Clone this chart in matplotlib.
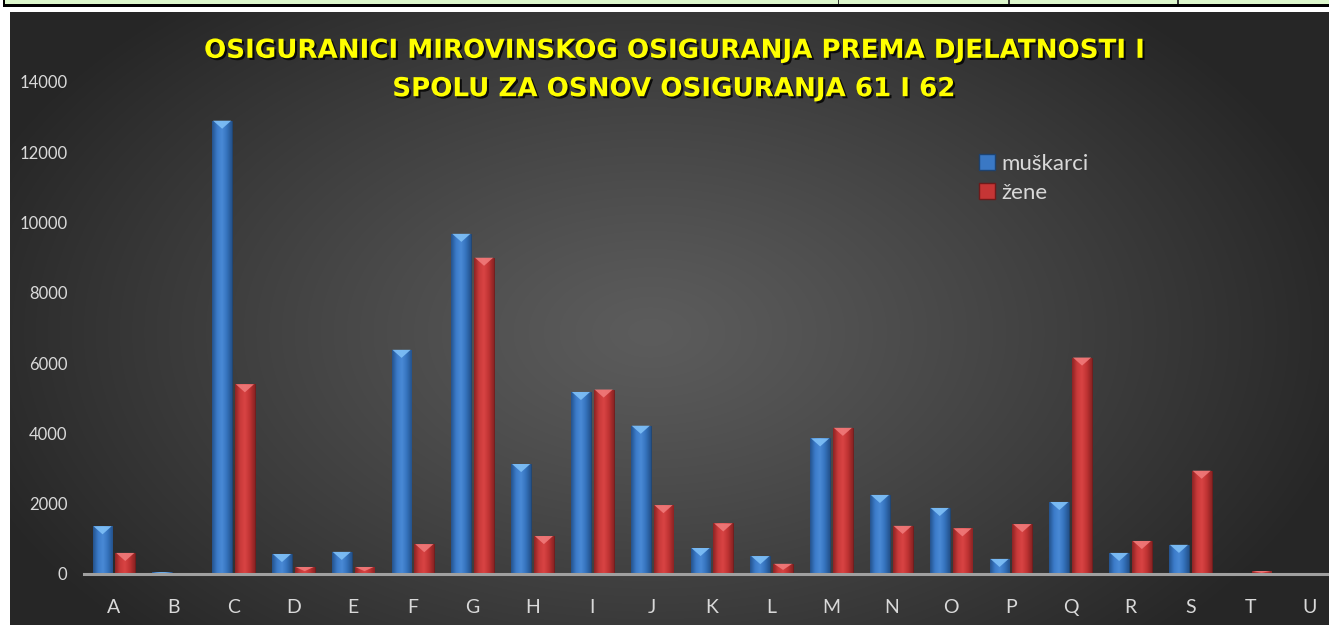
import numpy as np
import matplotlib
matplotlib.use("Agg")
import matplotlib.pyplot as plt
from matplotlib.colors import LinearSegmentedColormap, to_rgb
from matplotlib.patches import Rectangle, Polygon, Patch
import matplotlib.patheffects as pe

categories = ["A", "B", "C", "D", "E", "F", "G", "H", "I", "J", "K",
              "L", "M", "N", "O", "P", "Q", "R", "S", "T", "U"]
muskarci = [1360, 50, 12900, 570, 630, 6380, 9680, 3130, 5180, 4220, 740,
            510, 3860, 2250, 1880, 430, 2050, 600, 830, 20, 0]
zene = [600, 0, 5400, 200, 200, 850, 9000, 1080, 5250, 1960, 1440,
        290, 4160, 1370, 1300, 1420, 6160, 940, 2940, 85, 0]
series_names = ["muškarci", "žene"]
yticks = [0, 2000, 4000, 6000, 8000, 10000, 12000, 14000]
title = "OSIGURANICI MIROVINSKOG OSIGURANJA PREMA DJELATNOSTI I\nSPOLU ZA OSNOV OSIGURANJA 61 I 62"

W, H = 1329, 625
fig = plt.figure(figsize=(W / 100, H / 100), dpi=100)
fig.patch.set_facecolor("white")

# top strip (table remnant)
fig.patches.append(Rectangle((4 / W, (H - 4) / H), (W - 4) / W, 4 / H,
                             transform=fig.transFigure, facecolor="#dcf7cb", edgecolor="none"))
fig.patches.append(Rectangle((3 / W, (H - 7) / H), (W - 3) / W, 3 / H,
                             transform=fig.transFigure, facecolor="black", edgecolor="none"))
fig.patches.append(Rectangle((3 / W, (H - 7) / H), 1.5 / W, 7 / H,
                             transform=fig.transFigure, facecolor="black", edgecolor="none"))
for xv in [838, 1008, 1177]:
    fig.patches.append(Rectangle((xv / W, (H - 4) / H), 1.5 / W, 4 / H,
                                 transform=fig.transFigure, facecolor="#333333", edgecolor="none"))

# background radial gradient
bg = fig.add_axes([10 / W, 0, (W - 10) / W, (H - 12) / H], zorder=-1)
bw, bh = W - 10, H - 12
yy, xx = np.mgrid[0:bh, 0:bw]
cx, cy = 640, 320
d = np.sqrt(((xx - cx) / 720.0) ** 2 + ((yy - cy) / 440.0) ** 2)
d = np.clip(d, 0, 1) ** 1.15
c0 = np.array(to_rgb("#5c5c5c"))
c1 = np.array(to_rgb("#262626"))
img = c0[None, None, :] * (1 - d[..., None]) + c1[None, None, :] * d[..., None]
bg.imshow(img, aspect="auto", extent=(0, 1, 0, 1), origin="upper")
bg.set_axis_off()

# main axes
slot = 59.8
ax_left = 84 / W
ax_w = 21 * slot / W
ax_bottom = (H - 574) / H
ax_h = 492 / H
ax = fig.add_axes([ax_left, ax_bottom, ax_w, ax_h])
ax.set_facecolor("none")

x = np.arange(len(categories))
bw_ = 0.33
off = 0.19
b1 = ax.bar(x - off, muskarci, width=bw_, color="#3a78c4", edgecolor="#1d426f", linewidth=0.6,
            label=series_names[0], zorder=3)
b2 = ax.bar(x + off, zene, width=bw_, color="#c63535", edgecolor="#6e1a1a", linewidth=0.6,
            label=series_names[1], zorder=3)

cmap_b = LinearSegmentedColormap.from_list("b", ["#24528c", "#3b7bc9", "#4a8ad6", "#3573bd", "#24528c"])
cmap_r = LinearSegmentedColormap.from_list("r", ["#8c2323", "#c93a3a", "#d94444", "#bf3333", "#8c2323"])
tri_h = 230
for bars, cmap, tri_col in [(b1, cmap_b, "#7fc0f7"), (b2, cmap_r, "#f07a7a")]:
    for p in bars:
        h = p.get_height()
        if h <= 0:
            continue
        x0 = p.get_x()
        w = p.get_width()
        grad = np.linspace(0, 1, 64)[None, :]
        im = ax.imshow(grad, cmap=cmap, aspect="auto", extent=(x0, x0 + w, 0, h),
                       zorder=3.5, interpolation="bicubic")
        im.set_clip_path(p)
        th = min(tri_h, 0.6 * h)
        ax.add_patch(Polygon([(x0 + 0.04 * w, h), (x0 + 0.96 * w, h), (x0 + w / 2, h - th)],
                             closed=True, facecolor=tri_col, edgecolor="none", zorder=4, alpha=0.9))

ax.set_xlim(-0.5, len(categories) - 0.5)
ax.set_ylim(0, 14000)
ax.set_yticks(yticks)
ax.set_yticklabels([str(v) for v in yticks])
ax.set_xticks(x)
ax.set_xticklabels(categories)
for s in ["top", "right", "left"]:
    ax.spines[s].set_visible(False)
ax.spines["bottom"].set_color("#a0a0a0")
ax.spines["bottom"].set_linewidth(2.2)
ax.spines["bottom"].set_zorder(5)
ax.tick_params(axis="y", length=0, pad=12, labelsize=12, labelcolor="#d9d9d9")
ax.tick_params(axis="x", length=0, pad=18, labelsize=14, labelcolor="#d9d9d9")
for lab in ax.get_xticklabels() + ax.get_yticklabels():
    lab.set_family("Lato")

leg = ax.legend(handles=[Patch(facecolor="#3a78c4", edgecolor="#1d426f", label=series_names[0]),
                         Patch(facecolor="#c63535", edgecolor="#6e1a1a", label=series_names[1])],
                loc="upper left", bbox_to_anchor=(979 / W, (H - 154) / H),
                bbox_transform=fig.transFigure, frameon=False, borderaxespad=0, borderpad=0,
                handlelength=0.7, handleheight=0.7, handletextpad=0.3,
                labelspacing=0.4, prop={"family": "Lato", "size": 16})
for t in leg.get_texts():
    t.set_color("#d9d9d9")

fig.text(0.507, (H - 70) / H, title, ha="center", va="center", color="#ffff00",
         fontsize=18.8, fontweight="bold", family="DejaVu Sans", linespacing=1.62,
         path_effects=[pe.withSimplePatchShadow(offset=(1.5, -1.5), shadow_rgbFace="black", alpha=0.8)])

fig.savefig("out.png", dpi=100)
